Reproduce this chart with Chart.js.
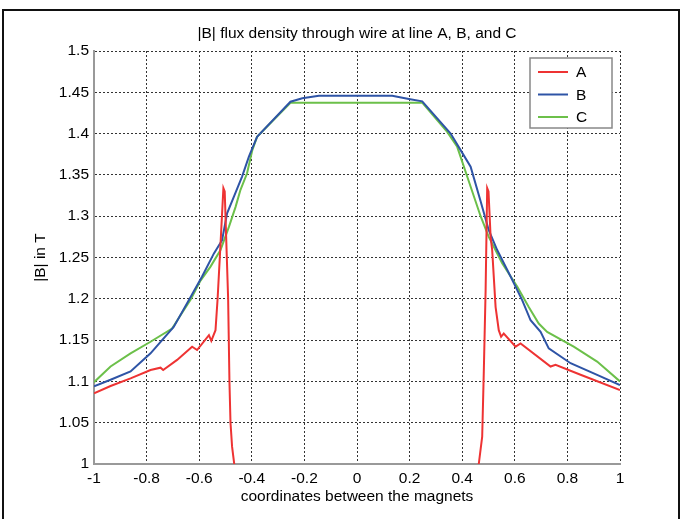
<!DOCTYPE html>
<html>
<head>
<meta charset="utf-8">
<script src="https://cdn.jsdelivr.net/npm/chart.js@4"></script>
<style>
  html, body { margin: 0; padding: 0; background: #fff; }
  #wrap { position: relative; width: 681px; height: 519px; overflow: hidden; }
  #frame { position: absolute; left: 2px; top: 9px; width: 674px; height: 530px; border: 2px solid #111; }
  canvas { position: absolute; left: 0; top: 0; }
</style>
</head>
<body>
<div id="wrap">
  <div id="frame"></div>
  <canvas id="chartFlux" width="681" height="519"></canvas>
</div>
<script>
const chartTitle = "|B| flux density through wire at line A, B, and C";
const xTitle = "coordinates between the magnets";
const yTitle = "|B| in T";
const seriesNames = ["A", "B", "C"];
const xTicks = [-1, -0.8, -0.6, -0.4, -0.2, 0, 0.2, 0.4, 0.6, 0.8, 1];
const yTicks = [1, 1.05, 1.1, 1.15, 1.2, 1.25, 1.3, 1.35, 1.4, 1.45, 1.5];

// line A
const xA = [-1, -0.937, -0.861, -0.785, -0.747, -0.737, -0.684, -0.627, -0.608, -0.563, -0.554, -0.538,
  -0.53, -0.52, -0.508, -0.503, -0.496, -0.49, -0.485, -0.481, -0.475, -0.466, -0.45,
  0,
  0.45, 0.463, 0.476, 0.482, 0.489, 0.495, 0.5, 0.508, 0.514, 0.527, 0.539, 0.548, 0.558,
  0.603, 0.622, 0.736, 0.755, 0.85, 1];
const yA = [1.0856, 1.0944, 1.1037, 1.1138, 1.1166, 1.1138, 1.126, 1.142, 1.138, 1.156, 1.149, 1.162,
  1.2, 1.26, 1.334, 1.33, 1.26, 1.2, 1.1, 1.05, 1.021, 0.998, 0.95,
  null,
  0.95, 1.0, 1.033, 1.11, 1.21, 1.334, 1.33, 1.275, 1.259, 1.19, 1.162, 1.154, 1.158,
  1.142, 1.146, 1.118, 1.12, 1.108, 1.0896];

// line B
const xB = [-1, -0.937, -0.861, -0.785, -0.697, -0.646, -0.589, -0.544, -0.513, -0.494, -0.468, -0.437,
  -0.411, -0.38, -0.253, -0.208, -0.145, 0.134, 0.197, 0.248, 0.356, 0.394, 0.432, 0.47, 0.501,
  0.533, 0.584, 0.628, 0.66, 0.698, 0.729, 0.812, 0.913, 1];
const yB = [1.094, 1.102, 1.112, 1.134, 1.166, 1.1945, 1.227, 1.255, 1.271, 1.3035, 1.3236, 1.348,
  1.372, 1.396, 1.4386, 1.4427, 1.4459, 1.4459, 1.4419, 1.439, 1.4, 1.38, 1.36, 1.318, 1.283,
  1.259, 1.227, 1.1985, 1.174, 1.16, 1.14, 1.122, 1.108, 1.0956];

// line C
const xC = [-1, -0.937, -0.861, -0.785, -0.703, -0.671, -0.633, -0.595, -0.557, -0.519, -0.487, -0.462,
  -0.443, -0.418, -0.398, -0.38, -0.253, 0.248, 0.343, 0.381, 0.419, 0.47, 0.501, 0.552, 0.609,
  0.653, 0.691, 0.723, 0.824, 0.913, 1];
const yC = [1.099, 1.118, 1.134, 1.148, 1.164, 1.18, 1.199, 1.222, 1.239, 1.259, 1.287, 1.311,
  1.332, 1.352, 1.38, 1.396, 1.4374, 1.4374, 1.402, 1.384, 1.348, 1.3, 1.275, 1.243, 1.215,
  1.19, 1.17, 1.16, 1.142, 1.124, 1.1];

const colors = ["#ee3333", "#2e54a6", "#6cc04a"];
const FONT = "'Liberation Sans', Arial, sans-serif";
const FSIZE = 15.5;

function pts(xs, ys) {
  return xs.map((x, i) => ({ x: x, y: ys[i] }));
}

// title drawn at fixed place + legend box inside plot
const titleAndLegend = {
  id: "titleAndLegend",
  afterDraw(chart) {
    const ctx = chart.ctx;
    const area = chart.chartArea;
    ctx.save();
    ctx.fillStyle = "#000";
    ctx.font = FSIZE + "px " + FONT;
    ctx.textAlign = "center";
    ctx.textBaseline = "middle";
    ctx.fillText(chartTitle, (area.left + area.right) / 2, 34);

    const bx = 530, by = 58, bw = 82, bh = 70;
    ctx.fillStyle = "#fff";
    ctx.fillRect(bx, by, bw, bh);
    ctx.strokeStyle = "#888";
    ctx.lineWidth = 1.5;
    ctx.strokeRect(bx, by, bw, bh);
    ctx.textAlign = "left";
    chart.data.datasets.forEach((ds, i) => {
      const y = by + 14 + i * 22.5;
      ctx.strokeStyle = ds.borderColor;
      ctx.lineWidth = 2;
      ctx.beginPath();
      ctx.moveTo(bx + 8, y);
      ctx.lineTo(bx + 38, y);
      ctx.stroke();
      ctx.fillStyle = "#000";
      ctx.fillText(ds.label, bx + 46, y + 1);
    });
    ctx.restore();
  },
};

new Chart(document.getElementById("chartFlux"), {
  type: "line",
  data: {
    datasets: [
      { label: seriesNames[0], data: pts(xA, yA), borderColor: colors[0] },
      { label: seriesNames[1], data: pts(xB, yB), borderColor: colors[1] },
      { label: seriesNames[2], data: pts(xC, yC), borderColor: colors[2] },
    ],
  },
  options: {
    responsive: false,
    animation: false,
    spanGaps: false,
    elements: {
      point: { radius: 0 },
      line: { borderWidth: 2, tension: 0, fill: false },
    },
    layout: { padding: { top: 51, right: 61, left: 0, bottom: 0 } },
    plugins: {
      legend: { display: false },
      title: { display: false },
      tooltip: { enabled: false },
    },
    scales: {
      x: {
        type: "linear",
        min: -1,
        max: 1,
        afterBuildTicks: (s) => { s.ticks = xTicks.map((v) => ({ value: v })); },
        afterFit: (s) => { s.height = 55; },
        ticks: {
          color: "#000",
          padding: 5,
          maxRotation: 0,
          font: { family: FONT, size: FSIZE },
          callback: (v) => String(v),
        },
        grid: { color: "#333", lineWidth: 1, drawTicks: false },
        border: { display: true, color: "#999", width: 2, dash: [2, 2] },
        title: {
          display: true,
          text: xTitle,
          color: "#000",
          font: { family: FONT, size: FSIZE },
          padding: { top: 0, bottom: 13 },
        },
      },
      y: {
        min: 1,
        max: 1.5,
        afterBuildTicks: (s) => { s.ticks = yTicks.map((v) => ({ value: v })); },
        afterFit: (s) => { s.width = 94; },
        ticks: {
          color: "#000",
          padding: 5,
          font: { family: FONT, size: FSIZE },
          callback: (v) => String(v),
        },
        grid: { color: "#333", lineWidth: 1, drawTicks: false },
        border: { display: true, color: "#999", width: 2, dash: [2, 2] },
        title: {
          display: true,
          text: yTitle,
          color: "#000",
          font: { family: FONT, size: FSIZE },
          padding: { top: 31, bottom: 0 },
        },
      },
    },
  },
  plugins: [titleAndLegend],
});
</script>
</body>
</html>
